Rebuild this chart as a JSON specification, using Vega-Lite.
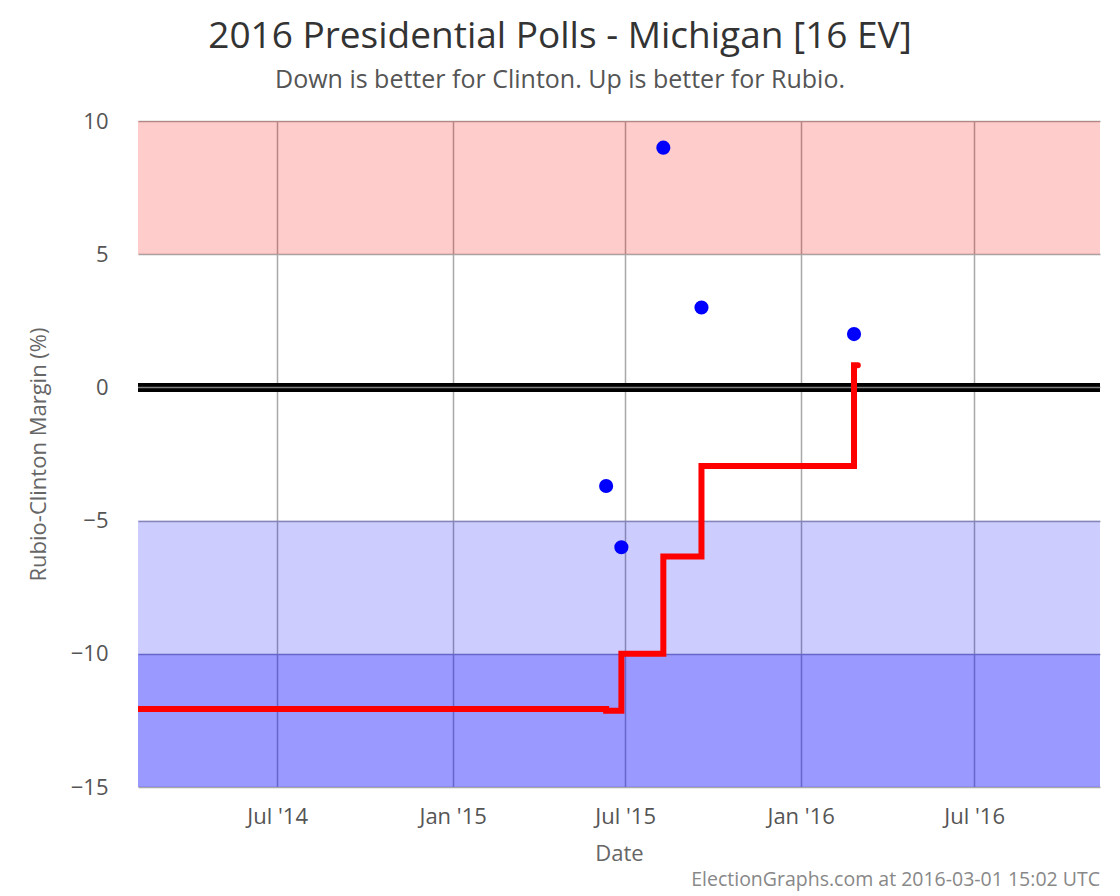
{
  "$schema": "https://vega.github.io/schema/vega-lite/v6.json",
  "width": 962,
  "height": 666,
  "autosize": "none",
  "padding": {"left": 138, "top": 121, "right": 20, "bottom": 109},
  "background": "white",
  "title": {
    "text": "2016 Presidential Polls - Michigan [16 EV]",
    "subtitle": "Down is better for Clinton. Up is better for Rubio.",
    "anchor": "middle",
    "frame": "group",
    "dx": -59,
    "offset": 16,
    "font": "Open Sans",
    "fontSize": 37,
    "fontWeight": "normal",
    "color": "#333333",
    "subtitleFont": "Open Sans",
    "subtitleFontSize": 25,
    "subtitleColor": "#555555",
    "subtitlePadding": 12
  },
  "config": {
    "view": {"stroke": null},
    "axis": {
      "labelFont": "Open Sans",
      "titleFont": "Open Sans",
      "labelFontSize": 22,
      "titleFontSize": 22,
      "labelColor": "#555555",
      "titleColor": "#666666",
      "titleFontWeight": "normal",
      "ticks": false,
      "domain": false,
      "grid": true,
      "gridColor": "#a8a8a8",
      "gridWidth": 1.5
    }
  },
  "layer": [
    {
      "data": {"values": [
        {"top": 10, "bottom": 5, "band": "rubio"},
        {"top": -5, "bottom": -10, "band": "clinton_weak"},
        {"top": -10, "bottom": -15, "band": "clinton_strong"}
      ]},
      "mark": {"type": "rect"},
      "encoding": {
        "y": {"field": "top", "type": "quantitative", "scale": {"domain": [-15, 10], "nice": false, "zero": false},
              "axis": {"values": [-15, -10, -5, 0, 5, 10], "title": "Rubio-Clinton Margin (%)", "labelPadding": 30, "titlePadding": 20}},
        "y2": {"field": "bottom"},
        "color": {"field": "band", "type": "nominal", "legend": null,
                  "scale": {"domain": ["rubio", "clinton_weak", "clinton_strong"], "range": ["rgba(255,0,0,0.2)", "rgba(0,0,255,0.2)", "rgba(0,0,255,0.4)"]}}
      }
    },
    {
      "data": {"values": [{"level": 0}]},
      "mark": {"type": "rule", "color": "#000000", "strokeWidth": 9},
      "encoding": {"y": {"field": "level", "type": "quantitative"}}
    },
    {
      "data": {"values": [{"level": 0}]},
      "mark": {"type": "rule", "color": "#808080", "strokeWidth": 1.5},
      "encoding": {"y": {"field": "level", "type": "quantitative"}}
    },
    {
      "data": {"values": [
        {"date": "2014-02-05", "margin": -12.07},
        {"date": "2015-06-11", "margin": -12.14},
        {"date": "2015-06-27", "margin": -10.0},
        {"date": "2015-08-10", "margin": -6.35},
        {"date": "2015-09-19", "margin": -2.95},
        {"date": "2016-02-26", "margin": 0.83},
        {"date": "2016-03-01", "margin": 0.83}
      ]},
      "mark": {"type": "line", "interpolate": "step-after", "color": "#ff0000", "strokeWidth": 6, "strokeCap": "round", "clip": true},
      "encoding": {
        "x": {"field": "date", "type": "temporal",
              "scale": {"type": "utc", "domain": [{"year": 2014, "month": 2, "date": 5, "utc": true}, {"year": 2016, "month": 11, "date": 10, "utc": true}]},
              "axis": {"values": [
                {"year": 2014, "month": 7, "date": 1, "utc": true},
                {"year": 2015, "month": 1, "date": 1, "utc": true},
                {"year": 2015, "month": 7, "date": 1, "utc": true},
                {"year": 2016, "month": 1, "date": 1, "utc": true},
                {"year": 2016, "month": 7, "date": 1, "utc": true}
              ], "labelExpr": "utcFormat(datum.value, '%b \\'%y')", "title": "Date", "labelPadding": 19, "titlePadding": 16}},
        "y": {"field": "margin", "type": "quantitative"}
      }
    },
    {
      "data": {"values": [
        {"date": "2015-06-11", "margin": -3.7},
        {"date": "2015-06-27", "margin": -6},
        {"date": "2015-08-10", "margin": 9},
        {"date": "2015-09-19", "margin": 3},
        {"date": "2016-02-26", "margin": 2}
      ]},
      "mark": {"type": "circle", "color": "#0000ff", "opacity": 1, "size": 200},
      "encoding": {
        "x": {"field": "date", "type": "temporal"},
        "y": {"field": "margin", "type": "quantitative"}
      }
    },
    {
      "data": {"values": [{"note": "ElectionGraphs.com at 2016-03-01 15:02 UTC", "date": "2016-11-10", "margin": -15}]},
      "mark": {"type": "text", "align": "right", "baseline": "alphabetic", "dy": 99, "font": "Open Sans", "fontSize": 19.5, "color": "#888888"},
      "encoding": {
        "x": {"field": "date", "type": "temporal"},
        "y": {"field": "margin", "type": "quantitative"},
        "text": {"field": "note"}
      }
    }
  ]
}
